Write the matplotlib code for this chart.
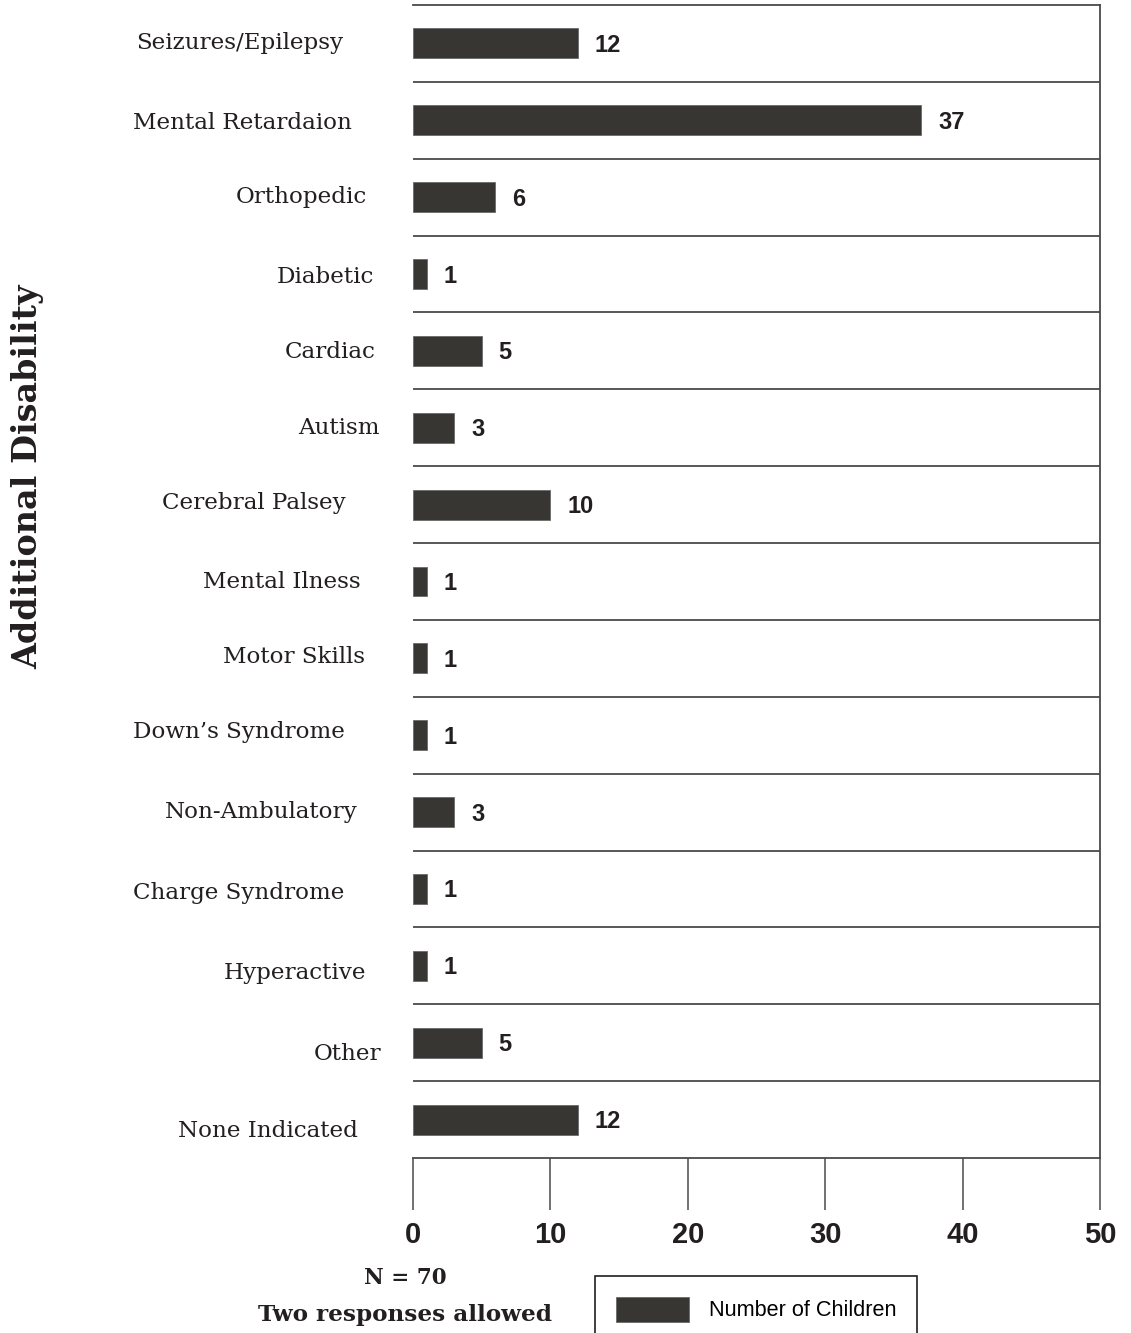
import matplotlib
matplotlib.use("Agg")
import matplotlib.pyplot as plt

# counts per additional disability (two responses allowed, N = 70)
categories = [
    "Seizures/Epilepsy", "Mental Retardaion", "Orthopedic", "Diabetic",
    "Cardiac", "Autism", "Cerebral Palsey", "Mental Ilness", "Motor Skills",
    "Down\u2019s Syndrome", "Non-Ambulatory", "Charge Syndrome",
    "Hyperactive", "Other", "None Indicated",
]
counts = [12, 37, 6, 1, 5, 3, 10, 1, 1, 1, 3, 1, 1, 5, 12]
xticks = [0, 10, 20, 30, 40, 50]

# hand placement of the category labels (gap from axis, downward nudge), pixels
label_gap = [70, 61, 46, 39, 37, 33, 67, 52, 48, 68, 55, 69, 47, 32, 55]
label_drop = [0, 3, 0, 3, 1, 0, -2, 0, -1, -3, 0, 4, 7, 11, 11]

BAR_COLOR = "#383632"
LINE_COLOR = "#4a4a4a"
TEXT_COLOR = "#231f20"
SERIF = "DejaVu Serif"
SANS = "Liberation Sans"

W, H = 1131, 1333
fig = plt.figure(figsize=(W / 100, H / 100), dpi=100)
ax = fig.add_axes([413 / W, 1 - 1158 / H, (1100 - 413) / W, (1158 - 5) / H])

ypos = list(range(len(categories)))
bars = ax.barh(ypos, counts, height=0.39, color=BAR_COLOR,
               edgecolor="#6a6a6a", linewidth=0.6, label="Number of Children",
               zorder=3)

ax.set_xlim(0, 50)
ax.set_ylim(len(categories) - 0.5, -0.5)

# row separators
for b in range(1, len(categories)):
    ax.axhline(b - 0.5, color=LINE_COLOR, linewidth=1.3, zorder=1)

for side in ["top", "right", "bottom"]:
    ax.spines[side].set_color(LINE_COLOR)
    ax.spines[side].set_linewidth(1.3)
ax.spines["left"].set_visible(False)

ax.set_yticks([])
ax.set_xticks(xticks)
ax.set_xticklabels([str(t) for t in xticks], fontfamily=SANS,
                   fontweight="bold", fontsize=21, color=TEXT_COLOR)
ax.tick_params(axis="x", direction="out", length=37.5, width=1.1,
               color=LINE_COLOR, pad=8)

for i, (name, v) in enumerate(zip(categories, counts)):
    ax.annotate(name, xy=(0, i), xycoords=("axes fraction", "data"),
                xytext=(-label_gap[i], -label_drop[i]),
                textcoords="offset pixels", ha="right", va="center",
                fontfamily=SERIF, fontsize=16.6, color=TEXT_COLOR)
    ax.annotate(str(v), xy=(v, i), xytext=(17, -2),
                textcoords="offset pixels", ha="left", va="center",
                fontfamily=SANS, fontweight="bold", fontsize=17,
                color=TEXT_COLOR)

fig.text(28 / W, 1 - 477 / H, "Additional Disability", rotation=90,
         ha="center", va="center", fontfamily=SERIF, fontweight="bold",
         fontsize=24, color=TEXT_COLOR)

fig.text(405 / W, 1 - 1278 / H, "N = 70", ha="center", va="center",
         fontfamily=SERIF, fontweight="bold", fontsize=15.5, color=TEXT_COLOR)
fig.text(405 / W, 1 - 1315 / H, "Two responses allowed", ha="center",
         va="center", fontfamily=SERIF, fontweight="bold", fontsize=16.7,
         color=TEXT_COLOR)

leg = fig.legend(handles=[bars], loc="upper left",
                 bbox_to_anchor=(595 / W, 1 - 1276 / H),
                 prop={"family": SANS, "size": 15.6}, frameon=True,
                 fancybox=False, framealpha=1, edgecolor=TEXT_COLOR,
                 handlelength=3.4, handleheight=1.4, handletextpad=0.9,
                 borderpad=0.95, borderaxespad=0)
leg.get_frame().set_linewidth(1.2)

fig.savefig("out.png", dpi=100)
